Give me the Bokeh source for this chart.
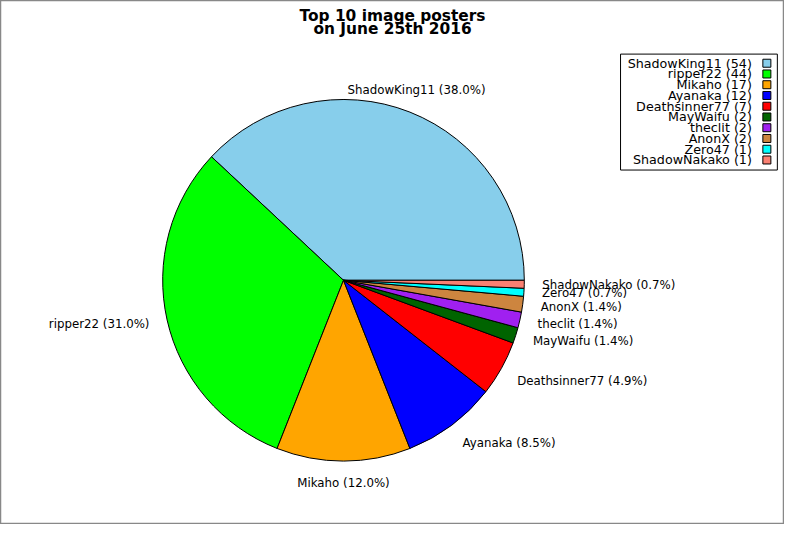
import math
from bokeh.plotting import figure
from bokeh.models import Range1d
from bokeh.core.properties import value
from bokeh.embed import file_html
from bokeh.resources import INLINE

# ---- data ----
names = ["ShadowKing11", "ripper22", "Mikaho", "Ayanaka", "Deathsinner77",
         "MayWaifu", "theclit", "AnonX", "Zero47", "ShadowNakako"]
counts = [54, 44, 17, 12, 7, 2, 2, 2, 1, 1]
colors = ["#87CEEB", "#00FF00", "#FFA500", "#0000FF", "#FF0000",
          "#006400", "#A020F0", "#CD853F", "#00FFFF", "#FA8072"]
title_lines = ["Top 10 image posters", "on June 25th 2016"]

# ---- layout (reference pixel frame 800x540, y flipped) ----
W, H = 784, 524
S = W / 800.0
FONT = "DejaVu Sans"

p = figure(width=W, height=H, output_backend="svg", toolbar_location=None,
           x_range=Range1d(0, 800), y_range=Range1d(540 - H / S, 540),
           min_border=0, min_border_left=0, min_border_right=0,
           min_border_top=0, min_border_bottom=0)
p.axis.visible = False
p.grid.visible = False
p.outline_line_color = "#888888"
p.outline_line_width = 1.5
p.background_fill_color = "white"
p.border_fill_color = "white"

def Y(ry):
    return 540 - ry

cx, cy, r = 350.0, Y(285.5), 184.5
total = float(sum(counts))
starts, ends = [], []
acc = 0.0
for c in counts:
    starts.append(2 * math.pi * acc / total)
    acc += c
    ends.append(2 * math.pi * acc / total)

p.wedge(x=[cx] * len(counts), y=[cy] * len(counts), radius=r,
        start_angle=starts, end_angle=ends, direction="anticlock",
        fill_color=colors, line_color="black", line_width=1)

# pie labels
for n, c, a0, a1 in zip(names, counts, starts, ends):
    m = (a0 + a1) / 2
    cs, sn = math.cos(m), math.sin(m)
    lx = cx + 1.1 * r * cs
    ly = cy + 1.1 * r * sn
    if sn > 0.4:
        ly += 5.5
    elif sn < -0.4:
        ly -= 3.5
    if abs(cs) < 0.45:
        al = "center"
    elif cs > 0:
        al = "left"
    else:
        al = "right"
    pct = "%s (%.1f%%)" % (n, 100.0 * c / total)
    p.text(x=[lx], y=[ly], text=[pct], text_align=al, text_baseline="middle",
           text_font=value(FONT), text_font_size="%.1fpx" % (12 * S),
           text_color="black")

# title
for i, t in enumerate(title_lines):
    p.text(x=[400], y=[Y(15.7 + 13.6 * i)], text=[t], text_align="center",
           text_baseline="alphabetic", text_font=value(FONT),
           text_font_style="bold", text_font_size="%.1fpx" % (15.7 * S),
           text_color="black")

# legend box
lx0, lx1, ly0, ly1 = 632.7, 792.7, 54.7, 173.0
p.quad(left=[lx0], right=[lx1], bottom=[Y(ly1)], top=[Y(ly0)],
       fill_color="white", line_color="black", line_width=1)
rows = [Y(64.0 + 10.97 * i) for i in range(len(names))]
leg_text = ["%s (%d)" % (n, c) for n, c in zip(names, counts)]
p.text(x=[766.7] * len(names), y=rows, text=leg_text, text_align="right",
       text_baseline="middle", text_font=value(FONT),
       text_font_size="%.1fpx" % (13 * S), text_color="black")
p.rect(x=[782.0] * len(names), y=rows, width=8, height=8,
       width_units="screen", height_units="screen",
       fill_color=colors, line_color="black", line_width=1)

open("out.html", "w").write(file_html(p, INLINE))
